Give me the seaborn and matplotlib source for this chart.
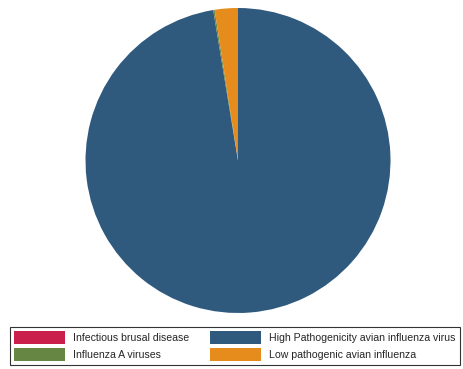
import matplotlib
matplotlib.use("Agg")
import matplotlib.pyplot as plt
import seaborn as sns
from matplotlib.patches import Patch

categories = ["Infectious brusal disease", "High Pathogenicity avian influenza virus",
              "Influenza A viruses", "Low pathogenic avian influenza"]
values = [0.0, 97.4, 0.15, 2.45]
colors = ["#c91f4a", "#2f5a7e", "#668643", "#e68c1c"]

sns.set_theme(style="white")
plt.rcParams['font.family'] = ['Liberation Sans', 'DejaVu Sans']
palette = sns.color_palette(colors)

fig = plt.figure(figsize=(4.63, 3.69), dpi=100)
ax = fig.add_axes([85.5/463, (369-313)/369, 305/463, 305/369])
ax.pie(values, colors=palette, startangle=90, counterclock=False,
       wedgeprops=dict(linewidth=0))
ax.set_xlim(-1, 1)
ax.set_ylim(-1, 1)
ax.set_aspect("equal")
ax.axis("off")

handles = [Patch(facecolor=c, edgecolor="none") for c in palette]
order = [0, 2, 1, 3]
leg = fig.legend([handles[i] for i in order], [categories[i] for i in order],
                 ncol=2, loc="upper left", bbox_to_anchor=(9.5/463, 1 - 326.5/369),
                 fontsize=7.6, frameon=True, fancybox=False,
                 handlelength=4.83, handleheight=1.52, handletextpad=0.76,
                 columnspacing=2.05, borderpad=0.4, labelspacing=0.38,
                 borderaxespad=0)
leg.get_frame().set_edgecolor("#000000")
leg.get_frame().set_linewidth(0.8)
fig.savefig("out.png", dpi=100)
